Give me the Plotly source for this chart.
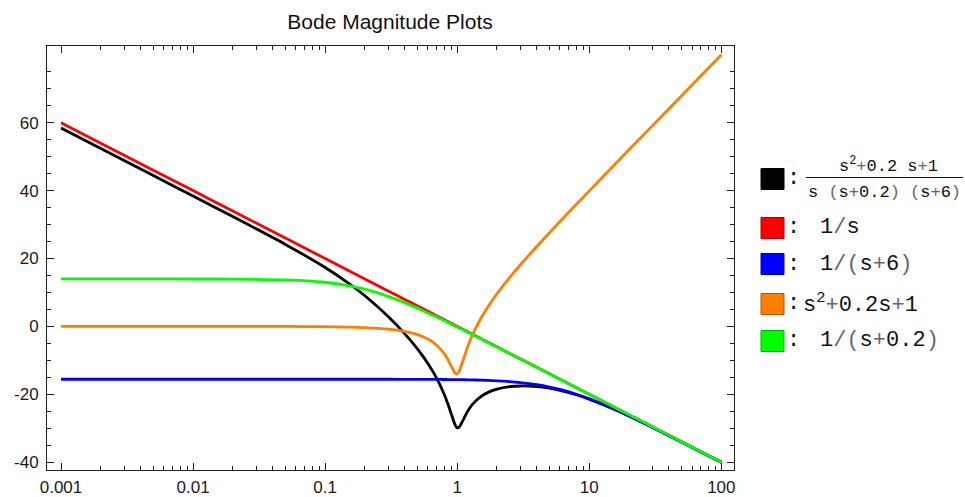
import plotly.graph_objects as go

# ---------------- data ----------------
freq = [0.001, 0.002, 0.005, 0.01, 0.02, 0.05, 0.1, 0.15, 0.2, 0.3, 0.4, 0.5, 0.6,
        0.7, 0.8, 0.85, 0.9, 0.95, 0.97, 0.99, 1.0, 1.01, 1.03, 1.05, 1.1, 1.2, 1.3,
        1.5, 1.7, 2, 2.5, 3, 4, 5, 6, 8, 10, 15, 20, 30, 50, 100]

mag_total = [58.416, 52.395, 44.434, 38.404, 32.349, 24.153, 17.361, 12.759, 9.033,
             2.945, -2.108, -6.618, -10.916, -15.300, -20.117, -22.810, -25.681,
             -28.378, -29.185, -29.702, -29.831, -29.874, -29.722, -29.324, -27.843,
             -25.020, -23.067, -20.765, -19.510, -18.487, -17.761, -17.550, -17.719,
             -18.206, -18.817, -20.138, -21.422, -24.205, -26.417, -29.722, -34.044,
             -40.017]

mag_integrator = [60.0, 53.979, 46.021, 40.0, 33.979, 26.021, 20.0, 16.478, 13.979,
                  10.458, 7.959, 6.021, 4.437, 3.098, 1.938, 1.412, 0.915, 0.446,
                  0.265, 0.087, 0.0, -0.086, -0.257, -0.424, -0.828, -1.584, -2.279,
                  -3.522, -4.609, -6.021, -7.959, -9.542, -12.041, -13.979, -15.563,
                  -18.062, -20.0, -23.522, -26.021, -29.542, -33.979, -40.0]

mag_pole6 = [-15.563, -15.563, -15.563, -15.563, -15.563, -15.563, -15.563, -15.566,
             -15.568, -15.574, -15.582, -15.593, -15.606, -15.622, -15.639, -15.649,
             -15.659, -15.671, -15.675, -15.680, -15.682, -15.685, -15.689, -15.694,
             -15.707, -15.733, -15.762, -15.826, -15.899, -16.021, -16.258, -16.532,
             -17.160, -17.853, -18.573, -20.000, -21.335, -24.166, -26.395, -29.713,
             -34.042, -40.016]

mag_zeros = [0.0, 0.0, 0.0, -0.001, -0.003, -0.021, -0.086, -0.194, -0.347, -0.800,
             -1.475, -2.422, -3.726, -5.533, -8.091, -9.751, -11.643, -13.410, -13.859,
             -14.023, -13.979, -13.850, -13.359, -12.628, -10.339, -6.000, -2.646, 2.181,
             5.667, 9.619, 14.442, 18.086, 23.534, 27.612, 30.887, 35.990, 39.915,
             47.006, 52.020, 59.075, 67.955, 80.0]

mag_pole02 = [13.979, 13.979, 13.976, 13.968, 13.936, 13.716, 13.010, 12.041, 10.969,
              8.861, 6.990, 5.376, 3.979, 2.757, 1.675, 1.178, 0.706, 0.257, 0.084,
              -0.086, -0.170, -0.253, -0.418, -0.579, -0.969, -1.703, -2.380, -3.598,
              -4.669, -6.064, -7.987, -9.562, -12.052, -13.986, -15.568, -18.065,
              -20.002, -23.523, -26.021, -29.542, -33.979, -40.0]

series_names = ["(s^2+0.2s+1)/(s(s+0.2)(s+6))", "1/s", "1/(s+6)", "s^2+0.2s+1", "1/(s+0.2)"]
series_vals = [mag_total, mag_integrator, mag_pole6, mag_zeros, mag_pole02]
colors = ["#000000", "#FF0000", "#0000FF", "#FF7F00", "#00FF00"]
border_colors = ["#000000", "#B00000", "#0000B0", "#B05800", "#00B000"]

x_major = [0.001, 0.01, 0.1, 1, 10, 100]
x_major_text = ["0.001", "0.01", "0.1", "1", "10", "100"]
x_minor = [m * 10 ** e for e in range(-3, 2) for m in range(2, 10)]
y_major = [-40, -20, 0, 20, 40, 60]
y_minor = list(range(-40, 80, 5))

title_text = "Bode Magnitude Plots"

# ---------------- figure ----------------
W, H = 965, 497
L, R, T, B = 47, 734, 46, 470


def px(xp):
    return (xp - L) / (R - L)


def py(yp):
    return (B - yp) / (B - T)


fig = go.Figure()
for name, vals, c in zip(series_names, series_vals, colors):
    fig.add_trace(go.Scatter(x=freq, y=vals, mode="lines", name=name,
                             line=dict(color=c, width=2.8, shape="spline", smoothing=0.6),
                             showlegend=False, hoverinfo="x+y"))

tickfont = dict(family="Liberation Sans, Arial, sans-serif", size=17, color="#1a1a1a")

fig.update_xaxes(type="log", range=[-3.106, 2.096], showgrid=False, zeroline=False,
                 automargin=False,
                 showline=True, linecolor="#222", linewidth=1, mirror="ticks",
                 ticks="inside", ticklen=7, tickwidth=1, tickcolor="#222",
                 tickvals=x_major, ticktext=x_major_text, tickfont=tickfont,
                 ticklabelstandoff=2,
                 minor=dict(tickvals=x_minor, ticks="inside", ticklen=4, tickwidth=1,
                            tickcolor="#222", showgrid=False))
fig.update_yaxes(range=[-42.3, 82.6], showgrid=False, zeroline=False,
                 automargin=False,
                 showline=True, linecolor="#222", linewidth=1, mirror="ticks",
                 ticks="inside", ticklen=7, tickwidth=1, tickcolor="#222",
                 tickvals=y_major, ticktext=[str(v) for v in y_major], tickfont=tickfont,
                 ticklabelstandoff=4,
                 minor=dict(tickvals=y_minor, ticks="inside", ticklen=4, tickwidth=1,
                            tickcolor="#222", showgrid=False))

# ---------------- custom legend ----------------
mono = "Liberation Mono, Courier New, monospace"
gray = "#666"
swatch_y = [(168.5, 189.5), (217.5, 238.5), (253.5, 274.5), (293.5, 314.5), (330.5, 351.5)]
for (y0, y1), c, bc in zip(swatch_y, colors, border_colors):
    fig.add_shape(type="rect", xref="paper", yref="paper",
                  x0=px(761), x1=px(784), y0=py(y1), y1=py(y0),
                  fillcolor=c, line=dict(color=bc, width=1))

colon_font = dict(family=mono, size=22, color="#111")
for (y0, y1) in swatch_y:
    fig.add_annotation(xref="paper", yref="paper", x=px(793), y=py((y0 + y1) / 2),
                       text=":", showarrow=False, font=colon_font,
                       xanchor="center", yanchor="middle")

main_font = dict(family=mono, size=22, color="#111")


def op(s):
    return f'<span style="color:{gray}">{s}</span>'


legend_texts = [
    (228, "1" + op("/") + "s", 818),
    (264, "1" + op("/") + op("(") + "s" + op("+") + "6" + op(")"), 818),
    (304, "s<sup>2</sup>" + op("+") + "0.2s" + op("+") + "1", 801),
    (341, "1" + op("/") + op("(") + "s" + op("+") + "0.2" + op(")"), 818),
]
for yc, txt, x0 in legend_texts:
    fig.add_annotation(xref="paper", yref="paper", x=px(x0), y=py(yc), text=txt,
                       showarrow=False, font=main_font, xanchor="left", yanchor="middle")

frac_font = dict(family=mono, size=17, color="#111")
fig.add_annotation(xref="paper", yref="paper", x=px(888), y=py(165),
                   text="s<sup>2</sup>" + op("+") + "0.2 s" + op("+") + "1",
                   showarrow=False, font=frac_font, xanchor="center", yanchor="middle")
fig.add_shape(type="line", xref="paper", yref="paper", x0=px(806), x1=px(963),
              y0=py(177.5), y1=py(177.5), line=dict(color="#111", width=1))
fig.add_annotation(xref="paper", yref="paper", x=px(884), y=py(192),
                   text="s " + op("(") + "s" + op("+") + "0.2" + op(")") + " " + op("(") + "s"
                        + op("+") + "6" + op(")"),
                   showarrow=False, font=frac_font, xanchor="center", yanchor="middle")

fig.update_layout(
    width=W, height=H,
    margin=dict(l=L, r=W - R, t=T, b=H - B, pad=0),
    paper_bgcolor="white", plot_bgcolor="white",
    title=dict(text=title_text, x=390 / W, xanchor="center", xref="container",
               y=1 - 22 / H, yanchor="middle", yref="container",
               font=dict(family="Liberation Sans, Arial, sans-serif", size=21, color="#111")),
    showlegend=False,
)

fig.write_html("out.html")
